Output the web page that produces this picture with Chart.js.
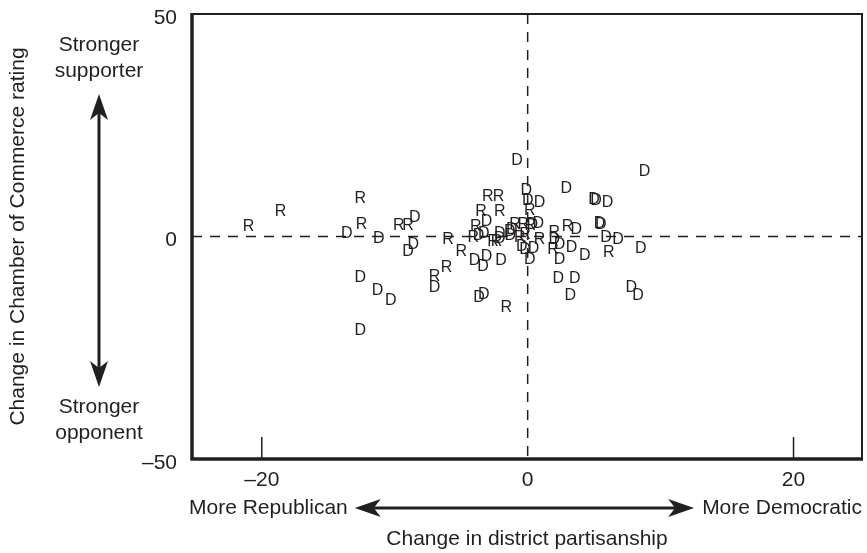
<!DOCTYPE html>
<html>
<head>
<meta charset="utf-8">
<script src="https://cdn.jsdelivr.net/npm/chart.js@4"></script>
<style>
  body { margin: 0; background: #fff; }
  #wrap { width: 867px; height: 553px; }
</style>
</head>
<body>
<div id="wrap"><canvas id="chart"></canvas></div>
<script>
// Republican members (x = change in district partisanship, y = change in rating)
const repPoints = [
    [-21.0, 2.5], [-18.6, 5.9], [-12.6, 8.8], [-12.5, 2.9], [-9.7, 2.8], [-9.0, 2.8],
    [-7.0, -8.8], [-6.1, -6.7], [-6.0, -0.4], [-5.0, -3.0], [-4.1, 0.1], [-3.9, 2.6],
    [-3.5, 6.0], [-3.0, 9.2], [-2.2, 9.2], [-2.1, 6.0], [-2.6, -0.8], [-2.35, -0.8],
    [-1.6, -15.7], [-0.95, 2.9], [-0.33, 2.9], [0.2, 2.8], [-0.6, 0.0], [-0.2, 0.7],
    [0.15, 6.1], [0.9, -0.4], [1.9, -2.6], [2.0, 1.1], [3.0, 2.6], [6.1, -3.4]
];
// Democratic members
const demPoints = [
    [-13.6, 1.0], [-11.2, -0.1], [-8.5, 4.5], [-8.6, -1.6], [-9.0, -3.0], [-12.6, -8.9],
    [-11.3, -11.8], [-10.3, -14.1], [-12.6, -20.8], [-7.0, -11.2], [-3.1, 3.7], [-3.7, 0.4],
    [-3.3, 1.0], [-2.1, 0.9], [-4.0, -5.2], [-3.35, -6.5], [-3.1, -4.3], [-2.0, -5.2],
    [-3.65, -13.5], [-3.3, -12.8], [-0.8, 17.3], [-0.1, 10.6], [0.0, 8.3], [0.9, 7.9],
    [0.8, 3.3], [0.35, 3.0], [-1.2, 1.8], [-1.35, 1.4], [-1.3, 0.4], [-0.45, -1.9],
    [-0.2, -2.7], [0.45, -2.4], [0.15, -4.9], [-2.1, -0.2], [2.0, -0.4], [2.4, -1.5],
    [3.3, -2.3], [2.4, -4.9], [3.65, 1.9], [2.9, 11.1], [4.3, -4.1], [3.55, -9.2],
    [2.3, -9.2], [3.2, -13.1], [5.0, 8.6], [5.15, 8.3], [6.0, 7.8], [5.4, 3.3],
    [5.5, 3.0], [5.9, 0.0], [6.8, -0.3], [8.5, -2.5], [7.8, -11.3], [8.3, -12.9],
    [8.8, 14.9]
];
const xTicks = [-20, 0, 20];
const yTicks = [-50, 0, 50];

const INK = "#231f20";
const FONT = '"Liberation Sans", Arial, Helvetica, sans-serif';

Chart.defaults.font.family = FONT;
Chart.defaults.color = INK;

function fmt(v) {
    return v < 0 ? "\u2013" + Math.abs(v) : String(v);
}

function arrowHead(ctx, x, y, angle) {
    // barbed arrow head, tip at (x, y), pointing along angle
    ctx.save();
    ctx.translate(x, y);
    ctx.rotate(angle);
    ctx.beginPath();
    ctx.moveTo(0, 0);
    ctx.lineTo(-26, -9);
    ctx.lineTo(-19, 0);
    ctx.lineTo(-26, 9);
    ctx.closePath();
    ctx.fill();
    ctx.restore();
}

// each point is shown as its party letter, placed where the scales put the point
const letters = {
    id: "letters",
    afterDatasetsDraw(chart) {
        const ctx = chart.ctx;
        ctx.save();
        ctx.fillStyle = INK;
        ctx.font = "16px " + FONT;
        ctx.textAlign = "center";
        ctx.textBaseline = "alphabetic";
        chart.data.datasets.forEach((ds, i) => {
            chart.getDatasetMeta(i).data.forEach(pt => {
                ctx.fillText(ds.label, pt.x, pt.y + 5.7);
            });
        });
        ctx.restore();
    }
};

const decorations = {
    id: "decorations",
    beforeDatasetsDraw(chart) {
        const { ctx, chartArea: a, scales: { x, y } } = chart;
        ctx.save();
        ctx.strokeStyle = INK;
        ctx.lineWidth = 1.5;
        ctx.setLineDash([10, 8]);
        const x0 = x.getPixelForValue(0);
        const y0 = y.getPixelForValue(0);
        ctx.beginPath();
        ctx.moveTo(a.left, y0);
        ctx.lineTo(a.right, y0);
        ctx.moveTo(x0, a.top);
        ctx.lineTo(x0, a.bottom);
        ctx.stroke();
        ctx.restore();
    },
    afterDraw(chart) {
        const { ctx, chartArea: a, scales: { x, y } } = chart;
        ctx.save();
        ctx.strokeStyle = INK;
        ctx.fillStyle = INK;

        // frame: heavy left and bottom, light top and right
        ctx.lineWidth = 2;
        ctx.beginPath();
        ctx.moveTo(a.left, a.top);
        ctx.lineTo(a.right, a.top);
        ctx.lineTo(a.right, a.bottom);
        ctx.stroke();
        ctx.lineWidth = 3.5;
        ctx.beginPath();
        ctx.moveTo(a.left, a.top - 1);
        ctx.lineTo(a.left, a.bottom);
        ctx.lineTo(a.right + 1, a.bottom);
        ctx.stroke();

        // inward ticks at -20 and 20
        ctx.lineWidth = 1.5;
        ctx.beginPath();
        [-20, 20].forEach(v => {
            const px = x.getPixelForValue(v);
            ctx.moveTo(px, a.bottom);
            ctx.lineTo(px, a.bottom - 22);
        });
        ctx.stroke();

        // side notes on the y axis
        ctx.font = "21px " + FONT;
        ctx.textAlign = "center";
        ctx.textBaseline = "middle";
        const sx = 99;
        ctx.fillText("Stronger", sx, 45);
        ctx.fillText("supporter", sx, 71);
        ctx.fillText("Stronger", sx, 407);
        ctx.fillText("opponent", sx, 433);

        ctx.lineWidth = 3;
        ctx.beginPath();
        ctx.moveTo(sx, 110);
        ctx.lineTo(sx, 372);
        ctx.stroke();
        arrowHead(ctx, sx, 94, -Math.PI / 2);
        arrowHead(ctx, sx, 387, Math.PI / 2);

        // notes under the x axis
        const ry = 508;
        ctx.textAlign = "left";
        ctx.fillText("More Republican", a.left - 3, ry);
        const leftTip = a.left - 3 + ctx.measureText("More Republican").width + 7;
        ctx.textAlign = "right";
        ctx.fillText("More Democratic", a.right, ry);
        const rightTip = a.right - ctx.measureText("More Democratic").width - 8;
        ctx.beginPath();
        ctx.moveTo(leftTip + 15, ry);
        ctx.lineTo(rightTip - 15, ry);
        ctx.stroke();
        arrowHead(ctx, leftTip, ry, Math.PI);
        arrowHead(ctx, rightTip, ry, 0);

        ctx.restore();
    }
};

new Chart(document.getElementById("chart"), {
    type: "scatter",
    data: {
        datasets: [
            { label: "R", data: repPoints.map(p => ({ x: p[0], y: p[1] })), pointRadius: 0 },
            { label: "D", data: demPoints.map(p => ({ x: p[0], y: p[1] })), pointRadius: 0 },
        ],
    },
    options: {
        responsive: true,
        maintainAspectRatio: false,
        animation: false,
        events: [],
        layout: { padding: { top: 14, right: 5, left: 0, bottom: 0 } },
        plugins: { legend: { display: false }, tooltip: { enabled: false } },
        scales: {
            x: {
                type: "linear",
                min: -25.25,
                max: 25.15,
                grid: { display: false, drawTicks: false },
                border: { display: false },
                afterBuildTicks: s => { s.ticks = xTicks.map(v => ({ value: v })); },
                afterFit: s => { s.height = 94; s.paddingLeft = 0; s.paddingRight = 0; },
                ticks: { font: { size: 21 }, padding: 9, maxRotation: 0, autoSkip: false, callback: v => fmt(v) },
                title: { display: true, text: "Change in district partisanship", font: { size: 21 }, padding: { top: 0, bottom: 1 } },
            },
            y: {
                type: "linear",
                min: -50,
                max: 50,
                grid: { display: false, drawTicks: false },
                border: { display: false },
                afterBuildTicks: s => { s.ticks = yTicks.map(v => ({ value: v })); },
                afterFit: s => { s.width = 192; s.paddingTop = 0; s.paddingBottom = 0; },
                ticks: { font: { size: 21 }, padding: 15, labelOffset: 4, autoSkip: false, callback: v => fmt(v) },
                title: { display: true, text: "Change in Chamber of Commerce rating", font: { size: 21 }, padding: { top: 6, bottom: 0 } },
            },
        },
    },
    plugins: [decorations, letters],
});
</script>
</body>
</html>
